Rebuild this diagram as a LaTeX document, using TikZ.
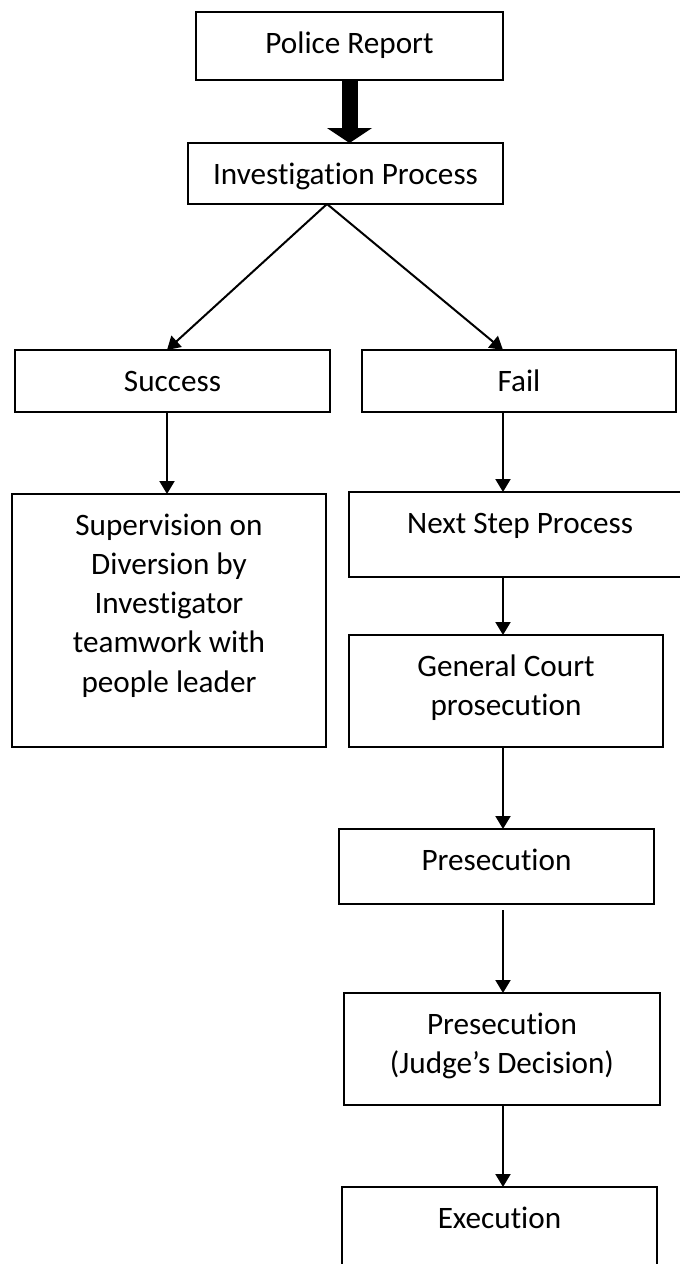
\documentclass[tikz,border=0pt]{standalone}
\usepackage{fontspec}
\setmainfont{Carlito}[Ligatures={NoCommon}]
\usetikzlibrary{arrows.meta,calc}
\newcommand\mybt[3]{\parbox[c][#1][t]{#2}{\centering\vspace*{13.5pt}\strut #3}}
\begin{document}
\begin{tikzpicture}[x=1pt,y=-1pt,
  box/.style={draw=black,line width=2pt,inner sep=0pt,outer sep=0pt,font=\fontsize{31.2}{39.3}\selectfont},
  arr/.style={draw=black,line width=2pt,-{Triangle[width=15pt,length=13pt]}},
  bigarr/.style={draw=black,line width=16pt,-{Triangle[width=45pt,length=15pt,line width=0pt]}}
]
\useasboundingbox (0,0) rectangle (680,1264);
\fill[white] (0,0) rectangle (680,1264);
\clip (0,0) rectangle (680,1264);

\node[box] (police)  at (349.5,46)   {\mybt{68pt}{307pt}{Police Report}};
\node[box] (inv)     at (345.5,173.5){\mybt{61pt}{315pt}{Investigation Process}};
\node[box] (success) at (172.5,381)  {\mybt{62pt}{315pt}{Success}};
\node[box] (fail)    at (519,381)    {\mybt{62pt}{314pt}{Fail}};
\node[box] (sup)     at (169,620.5)  {\mybt{253pt}{314pt}{Supervision on\\Diversion by\\Investigator\\teamwork with\\people leader}};
\node[box] (next)    at (520,534.5)  {\mybt{85pt}{342pt}{Next Step Process}};
\node[box] (court)   at (506,691)    {\mybt{112pt}{314pt}{General Court\\prosecution}};
\node[box] (pres)    at (496.5,866.5){\mybt{75pt}{315pt}{Presecution}};
\node[box] (judge)   at (502,1049)   {\mybt{112pt}{316pt}{Presecution\\(Judge’s Decision)}};
\node[box] (exec)    at (499.5,1232) {\mybt{90pt}{315pt}{Execution}};

\coordinate (apex) at ([xshift=-18.5pt]inv.south);
\coordinate (sTop) at ([xshift=-5.5pt]success.north);
\coordinate (fTop) at ([xshift=-16pt]fail.north);
\coordinate (sBot) at ([xshift=-5.5pt]success.south);
\coordinate (fBot) at ([xshift=-16pt]fail.south);
\coordinate (nBot) at ([xshift=-17pt]next.south);
\coordinate (cBot) at ([xshift=-3pt]court.south);
\coordinate (pBot) at ([xshift=6.5pt,yshift=-6pt]pres.south);
\coordinate (jBot) at ([xshift=1pt]judge.south);

\draw[bigarr] (police.south) -- (police.south |- inv.north);
\draw[arr] (apex) -- (sTop);
\draw[arr] (apex) -- (fTop);
\draw[arr] (sBot) -- (sBot |- sup.north);
\draw[arr] (fBot) -- (fBot |- next.north);
\draw[arr] (nBot) -- (nBot |- court.north);
\draw[arr] (cBot) -- (cBot |- pres.north);
\draw[arr] (pBot) -- (pBot |- judge.north);
\draw[arr] (jBot) -- (jBot |- exec.north);
\end{tikzpicture}
\end{document}
